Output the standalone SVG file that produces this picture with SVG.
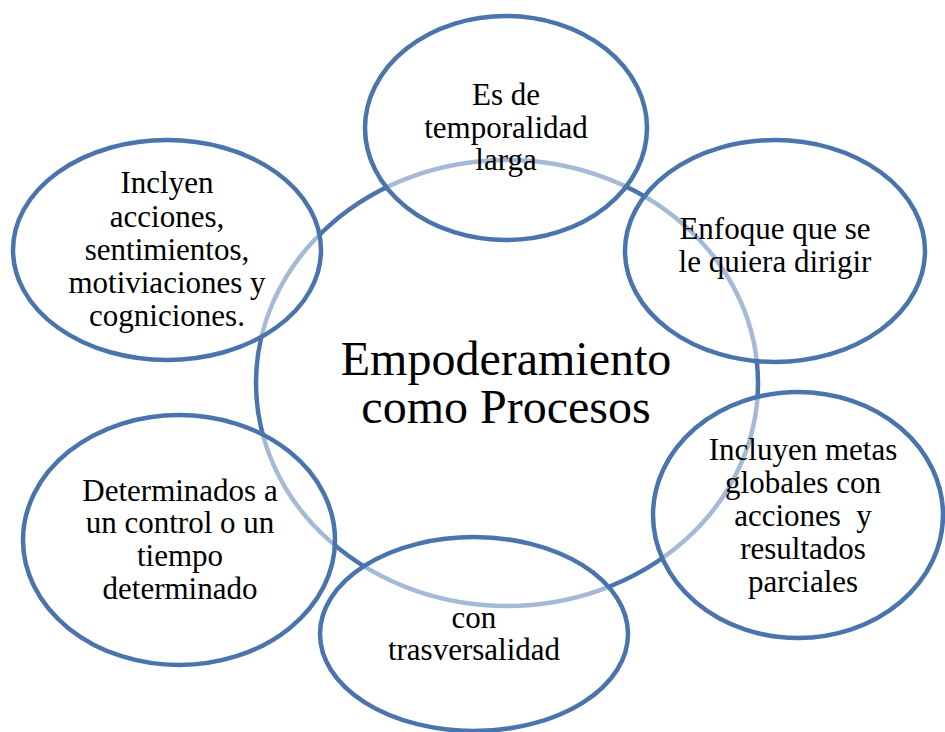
<svg xmlns="http://www.w3.org/2000/svg" width="945" height="732" viewBox="0 0 945 732">
<style>
.bg{fill:#ffffff}
.hub{fill:none;stroke:#4A75AC;stroke-width:4.5}
.node{fill:#ffffff;fill-opacity:0.5;stroke:#4A75AC;stroke-width:4.5}
.t{font-family:"Liberation Serif","Times New Roman",serif;font-size:31px;fill:#000;text-anchor:middle}
.c{font-family:"Liberation Serif","Times New Roman",serif;font-size:48px;fill:#000;text-anchor:middle}
</style>
<rect class="bg" x="0" y="0" width="945" height="732"/>
<g id="hub">
<ellipse class="hub" cx="507" cy="383" rx="251" ry="223"/>
<text class="c" x="506" y="375">Empoderamiento</text>
<text class="c" x="506" y="423">como Procesos</text>
</g>
<g id="node-top">
<ellipse class="node" cx="506" cy="128" rx="141" ry="112"/>
<text class="t" x="506" y="105">Es de</text>
<text class="t" x="506" y="137.7">temporalidad</text>
<text class="t" x="506" y="170">larga</text>
</g>
<g id="node-right">
<ellipse class="node" cx="775" cy="251" rx="150" ry="111"/>
<text class="t" x="775" y="239">Enfoque que se</text>
<text class="t" x="775" y="272">le quiera dirigir</text>
</g>
<g id="node-right-low">
<ellipse class="node" cx="798" cy="515" rx="145" ry="123"/>
<text class="t" x="803" y="460">Incluyen metas</text>
<text class="t" x="803" y="493">globales con</text>
<text class="t" x="803" y="526" xml:space="preserve">acciones  y</text>
<text class="t" x="803" y="559">resultados</text>
<text class="t" x="803" y="592">parciales</text>
</g>
<g id="node-bottom">
<ellipse class="node" cx="474" cy="634" rx="154" ry="97"/>
<text class="t" x="474" y="628">con</text>
<text class="t" x="474" y="660">trasversalidad</text>
</g>
<g id="node-left-low">
<ellipse class="node" cx="179" cy="540" rx="156" ry="125"/>
<text class="t" x="180" y="501">Determinados a</text>
<text class="t" x="180" y="533">un control o un</text>
<text class="t" x="180" y="566">tiempo</text>
<text class="t" x="180" y="599">determinado</text>
</g>
<g id="node-left">
<ellipse class="node" cx="167" cy="250" rx="154" ry="110"/>
<text class="t" x="167" y="193">Inclyen</text>
<text class="t" x="167" y="227">acciones,</text>
<text class="t" x="167" y="260">sentimientos,</text>
<text class="t" x="167" y="293">motiviaciones y</text>
<text class="t" x="167" y="326">cogniciones.</text>
</g>
<g id="connectors"></g>
</svg>
